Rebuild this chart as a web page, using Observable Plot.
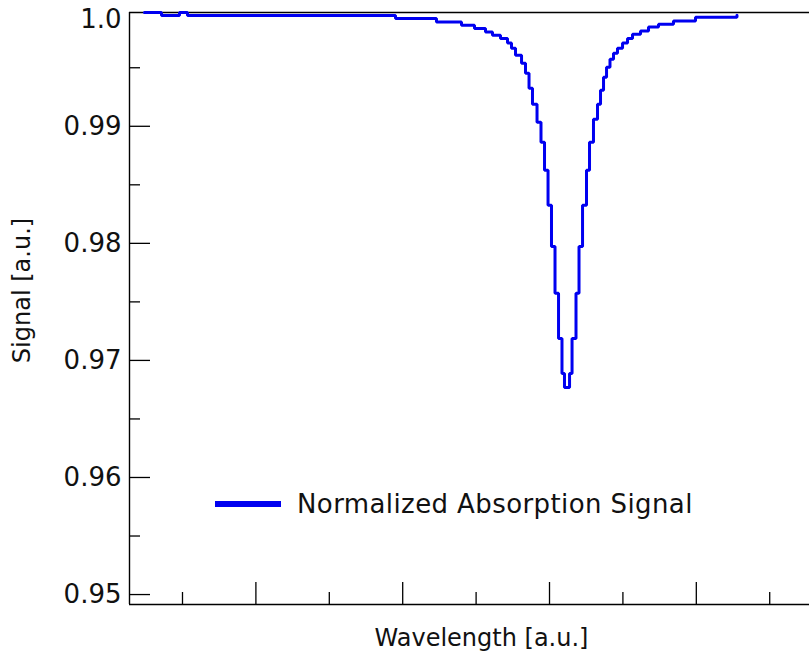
<!DOCTYPE html>
<html>
<head>
<meta charset="utf-8">
<script src="https://cdn.jsdelivr.net/npm/d3@7"></script>
<script src="https://cdn.jsdelivr.net/npm/@observablehq/plot@0.6"></script>
<style>
  html, body { margin: 0; padding: 0; background: #fff; overflow: hidden; }
  #wrap { position: relative; width: 809px; height: 652px; font-family: "DejaVu Sans", Verdana, sans-serif; }
  #legend { position: absolute; left: 215px; top: 489px; display: flex; align-items: center; font-size: 26px; letter-spacing: 0.4px; color: #111; white-space: nowrap; }
  #legend .swatch { width: 66px; height: 6px; background: #0000f0; margin-right: 16px; }
</style>
</head>
<body>
<div id="wrap"></div>
<script>
// Wavelength positions (a.u.) where each step level starts
const wavelength = [4.82, 7.14, 9.59, 10.68, 39.02, 44.60, 48.01, 49.78, 51.28, 52.23,
  53.32, 54.28, 54.82, 55.37, 56.19, 56.73, 57.21, 57.68, 58.30, 58.84,
  59.32, 59.80, 60.27, 60.75, 61.23, 61.70, 62.04, 62.73, 63.07, 63.61,
  64.02, 64.50, 65.04, 65.45, 65.99, 66.54, 66.95, 67.36, 67.77, 68.24,
  68.72, 69.26, 69.95, 70.63, 71.31, 72.40, 73.49, 74.85, 76.89, 79.89,
  85.48, 85.54];
// Normalized absorption signal (a.u.)
const signal = [0.99972, 0.99946, 0.99972, 0.99946, 0.99921, 0.99891, 0.99863, 0.99835, 0.99806, 0.99778,
  0.99750, 0.99712, 0.99667, 0.99607, 0.99538, 0.99453, 0.99325, 0.99188, 0.99034, 0.98863,
  0.98624, 0.98325, 0.97974, 0.97573, 0.97188, 0.96889, 0.96769, 0.96889, 0.97188, 0.97573,
  0.97974, 0.98325, 0.98624, 0.98863, 0.99060, 0.99188, 0.99308, 0.99419, 0.99504, 0.99573,
  0.99624, 0.99667, 0.99712, 0.99750, 0.99786, 0.99815, 0.99849, 0.99872, 0.99900, 0.99932,
  0.99932, 0.99949];

const xDomain = [2.78, 95.42];
const yDomain = [0.94915, 0.99972];
const xMajorTicks = [20, 40, 60, 80];
const xMinorTicks = [10, 30, 50, 70, 90];
const yMajorTicks = [0.95, 0.96, 0.97, 0.98, 0.99, 1.0];
const yMajorLabels = ["0.95", "0.96", "0.97", "0.98", "0.99", "1.0"];
const yMinorTicks = [0.955, 0.965, 0.975, 0.985, 0.995];
const xTitle = "Wavelength [a.u.]";
const yTitle = "Signal [a.u.]";
const seriesName = "Normalized Absorption Signal";

const data = wavelength.map((w, i) => ({w, s: signal[i]}));

const W = 809, H = 652;
const mT = 12, mB = 48, mL = 129, mR = 0;
const plotH = H - mT - mB;
const plotW = W - mL - mR;

const inDomain = yMajorTicks.map((v, i) => ({v, label: yMajorLabels[i]})).filter(d => d.v <= yDomain[1]);
const clamped = yMajorTicks.map((v, i) => ({v, label: yMajorLabels[i]})).filter(d => d.v > yDomain[1]);

const chart = Plot.plot({
  width: W, height: H,
  marginTop: mT, marginBottom: mB, marginLeft: mL, marginRight: mR,
  style: {fontFamily: "'DejaVu Sans', Verdana, sans-serif", background: "white", color: "#111"},
  x: {domain: xDomain},
  y: {domain: yDomain},
  marks: [
    // axis lines (top, bottom, left)
    Plot.ruleY([yDomain[0], yDomain[1]], {stroke: "#000", strokeWidth: 1.4}),
    Plot.ruleX([xDomain[0]], {stroke: "#000", strokeWidth: 1.4}),
    // inward ticks
    Plot.ruleX(xMajorTicks, {stroke: "#000", strokeWidth: 1.3, insetTop: plotH - 22}),
    Plot.ruleX(xMinorTicks, {stroke: "#000", strokeWidth: 1.3, insetTop: plotH - 12}),
    Plot.ruleY(inDomain.map(d => d.v), {stroke: "#000", strokeWidth: 1.3, insetRight: plotW - 21}),
    Plot.ruleY(yMinorTicks, {stroke: "#000", strokeWidth: 1.3, insetRight: plotW - 11}),
    // y tick labels
    Plot.axisY(inDomain.map(d => d.v), {
      tickSize: 0, tickPadding: 8, fontSize: 26, label: null,
      tickFormat: v => inDomain.find(d => d.v === v).label
    }),
    Plot.axisX({ticks: [], tickSize: 0, label: null}),
    // top label clamped inside the frame
    Plot.text(clamped, {text: "label", frameAnchor: "top-left", textAnchor: "end", lineAnchor: "middle", dx: -8, dy: 7, fontSize: 26, fill: "#111"}),
    // data
    Plot.line(data, {x: "w", y: "s", curve: "step-after", stroke: "#0000f0", strokeWidth: 3, strokeLinejoin: "miter"}),
    // axis titles
    Plot.text([xTitle], {text: d => d, frameAnchor: "bottom", textAnchor: "middle", lineAnchor: "middle", dx: 12, dy: 34, fontSize: 24, fill: "#111"}),
    Plot.text([yTitle], {text: d => d, frameAnchor: "left", textAnchor: "middle", lineAnchor: "middle", dx: -107, dy: -18, rotate: -90, fontSize: 24, fill: "#111"})
  ]
});

const wrap = document.getElementById("wrap");
wrap.appendChild(chart);
const legend = document.createElement("div");
legend.id = "legend";
legend.innerHTML = `<span class="swatch"></span><span></span>`;
legend.lastChild.textContent = seriesName;
wrap.appendChild(legend);
</script>
</body>
</html>
